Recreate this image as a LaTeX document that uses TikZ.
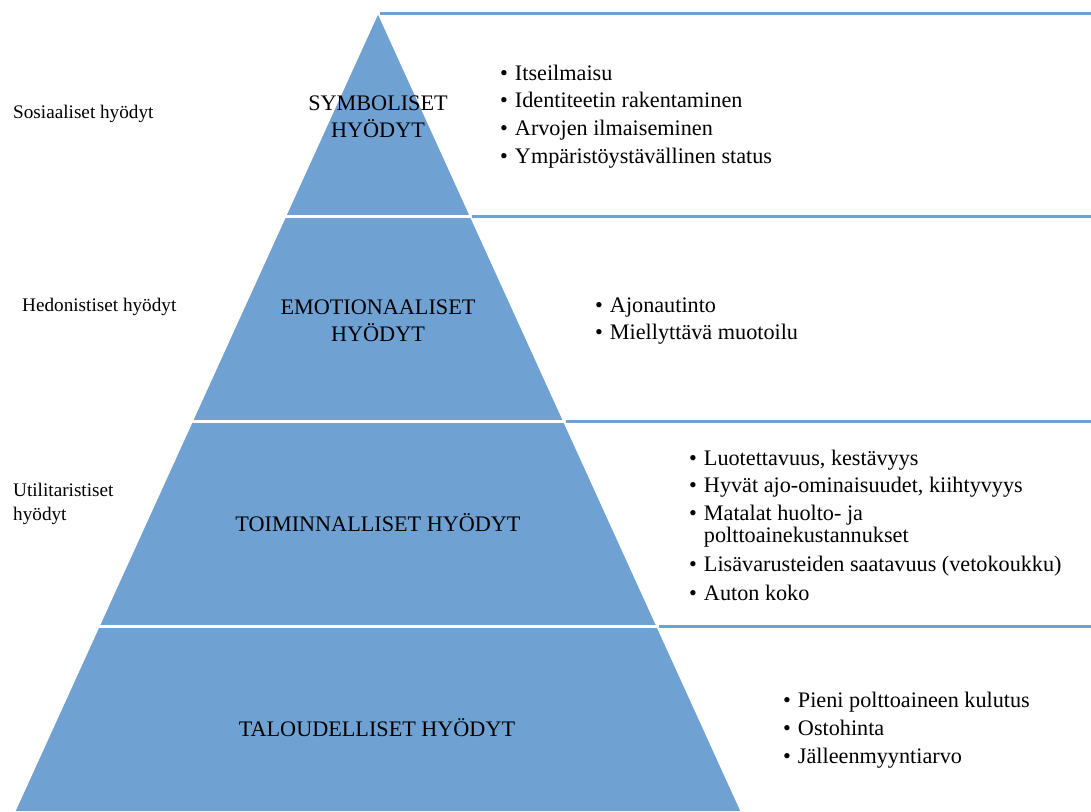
\documentclass[tikz,border=0pt]{standalone}
\usepackage{fontspec}
\setmainfont{Liberation Serif}
\usetikzlibrary{calc}
\definecolor{pyrblue}{RGB}{111,161,210}
\begin{document}
\begin{tikzpicture}[x=1pt,y=-1pt,
  rule/.style={draw=pyrblue, line width=3pt},
  gap/.style={draw=white, line width=3pt},
  level/.style={font=\fontsize{22.2}{27}\selectfont, align=center, inner sep=0pt},
  side/.style={font=\fontsize{19.2}{24}\selectfont, align=left, anchor=base west, inner sep=0pt},
  list/.style={font=\fontsize{22.2}{24}\selectfont, anchor=north west, inner sep=0pt}]
  \useasboundingbox (0,0) rectangle (1091,811);

  % pyramid corners
  \coordinate (apex) at (378,13);
  \coordinate (bl) at (15,811);
  \coordinate (br) at (741,811);
  % band boundaries on both slopes (y = 216, 421, 627)
  \foreach \i/\t in {1/0.2544, 2/0.5113, 3/0.7694} {
    \coordinate (l\i) at ($(apex)!\t!(bl)$);
    \coordinate (r\i) at ($(apex)!\t!(br)$);
  }

  % pyramid body
  \fill[pyrblue] (apex) -- (bl) -- (br) -- cycle;
  \foreach \i in {1,2,3}
    \draw[gap] ($(l\i)+(-3,0)$) -- ($(r\i)+(3,0)$);
  \draw[white, line width=1.2pt] (bl) -- (apex) -- (br);

  % rules separating the lists on the right
  \draw[rule] ($(apex)+(2,0)$) -- (1091,13);
  \foreach \i in {1,2,3}
    \draw[rule] ($(r\i)+(2,0)$) -- (1091,0 |- r\i);

  % level names
  \node[level] (symb) at (378,116.5) {SYMBOLISET\\HYÖDYT};
  \node[level] (emot) at (378,320.5) {EMOTIONAALISET\\HYÖDYT};
  \node[level, anchor=base] (toim) at (378,531) {TOIMINNALLISET HYÖDYT};
  \node[level, anchor=base] (talo) at (377,736) {TALOUDELLISET HYÖDYT};

  % benefit groups on the left
  \node[side] (sos) at (13,118) {Sosiaaliset hyödyt};
  \node[side] (hed) at (22,311) {Hedonistiset hyödyt};
  \node[side] (uti) at (13,520) {Utilitaristiset\\hyödyt};

  % bullet lists
  \node[list] (list1) at (500,63) {\begin{tabular}{@{}l@{\hspace{7pt}}l@{}}
    \textbullet & Itseilmaisu\\[3.7pt]
    \textbullet & Identiteetin rakentaminen\\[3.7pt]
    \textbullet & Arvojen ilmaiseminen\\[3.7pt]
    \textbullet & Ympäristöystävällinen status
  \end{tabular}};
  \node[list] (list2) at (595,295) {\begin{tabular}{@{}l@{\hspace{7pt}}l@{}}
    \textbullet & Ajonautinto\\[3pt]
    \textbullet & Miellyttävä muotoilu
  \end{tabular}};
  \node[list] (list3) at (689,448.5) {\begin{tabular}{@{}l@{\hspace{7pt}}l@{}}
    \textbullet & Luotettavuus, kestävyys\\[2.5pt]
    \textbullet & Hyvät ajo-ominaisuudet, kiihtyvyys\\[4.5pt]
    \textbullet & Matalat huolto- ja\\[-2pt]
                & polttoainekustannukset\\[5pt]
    \textbullet & Lisävarusteiden saatavuus (vetokoukku)\\[4.5pt]
    \textbullet & Auton koko
  \end{tabular}};
  \node[list] (list4) at (783,690.5) {\begin{tabular}{@{}l@{\hspace{7pt}}l@{}}
    \textbullet & Pieni polttoaineen kulutus\\[4pt]
    \textbullet & Ostohinta\\[4pt]
    \textbullet & Jälleenmyyntiarvo
  \end{tabular}};
\end{tikzpicture}
\end{document}
